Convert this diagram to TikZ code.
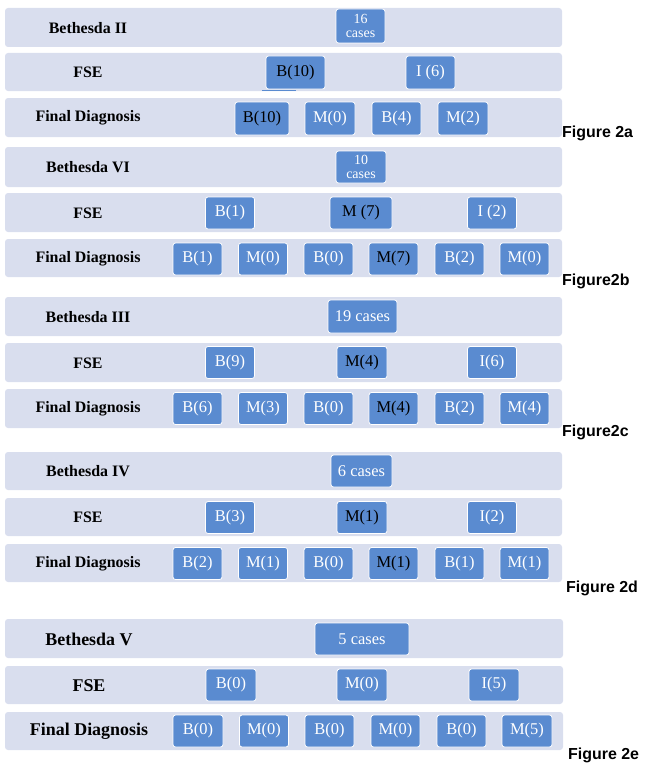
\documentclass[tikz,border=0pt]{standalone}
\usepackage{fontspec}
\setmainfont{Liberation Serif}
\newfontfamily\figfont{Liberation Sans}
\definecolor{bandc}{RGB}{217,222,238}
\definecolor{boxc}{RGB}{90,139,208}
\tikzset{
  band/.style={fill=bandc, rounded corners=3bp},
  cbox/.style={draw=white, line width=0.8bp, fill=boxc, rounded corners=2.5bp,
    inner sep=0pt, text=white, font=\fontsize{16.5}{18}\selectfont,
    minimum width=49bp, minimum height=32bp},
  dk/.style={text=black},
  lab/.style={font=\fontsize{16}{18}\selectfont\bfseries, text=black, inner sep=0pt},
  labe/.style={font=\fontsize{18}{20}\selectfont\bfseries, text=black, inner sep=0pt},
  figl/.style={font=\figfont\fontsize{16}{18}\selectfont\bfseries, anchor=west, inner sep=0pt},
  two/.style={align=center, font=\fontsize{14}{14}\selectfont}
}
\begin{document}
\begin{tikzpicture}[x=1bp,y=-1bp]
\useasboundingbox (0,0) rectangle (645,766);
% ---------- Figure 2a ----------
\path[band] (5,8) rectangle (562,47);
\path[band] (5,53) rectangle (562,91);
\path[band] (5,98) rectangle (562,137);
\node[lab] (aL1) at (88,28) {Bethesda II};
\node[lab] (aL2) at (88,72.5) {FSE};
\node[lab] (aL3) at (88,118) {Final Diagnosis};
\node[cbox,two,minimum width=49bp,minimum height=34bp] (a0) at (360.5,26) {16\\cases};
\node[cbox,dk,minimum width=59bp,minimum height=33bp] (aF1) at (295.5,72.5) {B(10)};
\node[cbox,minimum height=33bp] (aF2) at (430.5,72.5) {I (6)};
\coordinate (u1) at (262,90.5);
\coordinate (u2) at (296,90.5);
\draw[boxc, line width=1.3bp] (u1) -- (u2);
\node[cbox,dk,minimum width=54bp,minimum height=33bp] (aD1) at (262,118.5) {B(10)};
\node[cbox,minimum width=50bp,minimum height=33bp] (aD2) at (330,118.5) {M(0)};
\node[cbox,minimum height=33bp] (aD3) at (396.5,118.5) {B(4)};
\node[cbox,minimum width=50bp,minimum height=33bp] (aD4) at (463,118.5) {M(2)};
\node[figl] (aT) at (562,133) {Figure 2a};
% ---------- Figure 2b ----------
\path[band] (5,147) rectangle (562,187);
\path[band] (5,193) rectangle (562,232);
\path[band] (5,239) rectangle (562,277);
\node[lab] (bL1) at (88,167.5) {Bethesda VI};
\node[lab] (bL2) at (88,213) {FSE};
\node[lab] (bL3) at (88,258.5) {Final Diagnosis};
\node[cbox,two,minimum width=50bp] (b0) at (361,167) {10\\cases};
\node[cbox] (bF1) at (230,213) {B(1)};
\node[cbox,dk,minimum width=62bp] (bF2) at (361,213) {M (7)};
\node[cbox] (bF3) at (492,213) {I (2)};
\node[cbox] (bD1) at (197.5,259) {B(1)};
\node[cbox] (bD2) at (263,259) {M(0)};
\node[cbox] (bD3) at (328.5,259) {B(0)};
\node[cbox,dk] (bD4) at (393.5,259) {M(7)};
\node[cbox] (bD5) at (459.5,259) {B(2)};
\node[cbox] (bD6) at (524.5,259) {M(0)};
\node[figl] (bT) at (562,281) {Figure2b};
% ---------- Figure 2c ----------
\path[band] (5,297) rectangle (562,336);
\path[band] (5,343) rectangle (562,382);
\path[band] (5,389) rectangle (562,428);
\node[lab] (cL1) at (88,317) {Bethesda III};
\node[lab] (cL2) at (88,363) {FSE};
\node[lab] (cL3) at (88,409) {Final Diagnosis};
\node[cbox,minimum width=69bp,minimum height=33bp] (c0) at (362.5,316.5) {19 cases};
\node[cbox] (cF1) at (230,362.5) {B(9)};
\node[cbox,dk,minimum width=50bp] (cF2) at (362,362.5) {M(4)};
\node[cbox] (cF3) at (492,362.5) {I(6)};
\node[cbox] (cD1) at (197.5,408.5) {B(6)};
\node[cbox] (cD2) at (263,408.5) {M(3)};
\node[cbox] (cD3) at (328.5,408.5) {B(0)};
\node[cbox,dk] (cD4) at (393.5,408.5) {M(4)};
\node[cbox] (cD5) at (459.5,408.5) {B(2)};
\node[cbox] (cD6) at (524.5,408.5) {M(4)};
\node[figl] (cT) at (562,432) {Figure2c};
% ---------- Figure 2d ----------
\path[band] (5,452) rectangle (562,490);
\path[band] (5,498) rectangle (562,536);
\path[band] (5,544) rectangle (562,582);
\node[lab] (dL1) at (88,471.5) {Bethesda IV};
\node[lab] (dL2) at (88,517.5) {FSE};
\node[lab] (dL3) at (88,563.5) {Final Diagnosis};
\node[cbox,minimum width=61bp] (d0) at (361.5,471) {6 cases};
\node[cbox] (dF1) at (230,517.5) {B(3)};
\node[cbox,dk,minimum width=50bp] (dF2) at (362,517.5) {M(1)};
\node[cbox] (dF3) at (492,517.5) {I(2)};
\node[cbox] (dD1) at (197.5,563.5) {B(2)};
\node[cbox] (dD2) at (263,563.5) {M(1)};
\node[cbox] (dD3) at (328.5,563.5) {B(0)};
\node[cbox,dk] (dD4) at (393.5,563.5) {M(1)};
\node[cbox] (dD5) at (459.5,563.5) {B(1)};
\node[cbox] (dD6) at (524.5,563.5) {M(1)};
\node[figl] (dT) at (566,588) {Figure 2d};
% ---------- Figure 2e ----------
\path[band] (5,619) rectangle (563,658);
\path[band] (5,666) rectangle (563,704);
\path[band] (5,712) rectangle (563,750);
\node[labe] (eL1) at (89,639) {Bethesda V};
\node[labe] (eL2) at (89,685.5) {FSE};
\node[labe] (eL3) at (89,731.5) {Final Diagnosis};
\node[cbox,minimum width=94bp] (e0) at (362,639) {5 cases};
\node[cbox,minimum width=50bp] (eF1) at (231,685) {B(0)};
\node[cbox,minimum width=50bp] (eF2) at (362,685) {M(0)};
\node[cbox,minimum width=50bp] (eF3) at (494,685) {I(5)};
\node[cbox,minimum width=50bp] (eD1) at (198,731) {B(0)};
\node[cbox] (eD2) at (264,731) {M(0)};
\node[cbox] (eD3) at (329.5,731) {B(0)};
\node[cbox] (eD4) at (395.5,731) {M(0)};
\node[cbox] (eD5) at (461.5,731) {B(0)};
\node[cbox,minimum width=50bp] (eD6) at (527,731) {M(5)};
\node[figl] (eT) at (568,755) {Figure 2e};
\end{tikzpicture}
\end{document}
